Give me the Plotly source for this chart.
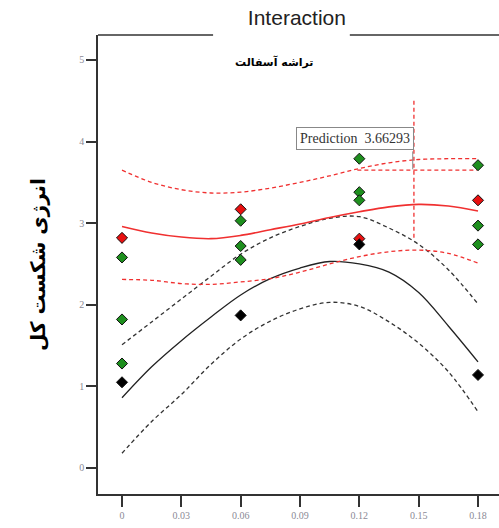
import plotly.graph_objects as go

# ---- data ----
green_x = [0, 0, 0, 0.06, 0.06, 0.06, 0.12, 0.12, 0.12, 0.18, 0.18, 0.18]
green_y = [2.58, 1.82, 1.28, 3.03, 2.72, 2.55, 3.79, 3.38, 3.28, 3.71, 2.97, 2.74]
red_x = [0, 0.06, 0.12, 0.18]
red_y = [2.82, 3.17, 2.81, 3.28]
black_x = [0, 0.06, 0.12, 0.18]
black_y = [1.05, 1.87, 2.74, 1.14]

curve_x = [0, 0.015, 0.03, 0.045, 0.06, 0.075, 0.09, 0.105, 0.12, 0.135, 0.15, 0.165, 0.18]
red_fit = [2.96, 2.88, 2.83, 2.81, 2.85, 2.92, 2.99, 3.07, 3.14, 3.20, 3.23, 3.21, 3.15]
red_upper = [3.65, 3.50, 3.41, 3.37, 3.38, 3.43, 3.50, 3.58, 3.67, 3.74, 3.78, 3.79, 3.79]
red_lower = [2.31, 2.30, 2.26, 2.25, 2.28, 2.32, 2.40, 2.50, 2.59, 2.65, 2.67, 2.63, 2.51]
black_fit = [0.86, 1.24, 1.56, 1.85, 2.12, 2.32, 2.45, 2.53, 2.50, 2.40, 2.15, 1.74, 1.30]
black_upper = [1.51, 1.79, 2.07, 2.35, 2.62, 2.82, 2.96, 3.06, 3.08, 2.94, 2.74, 2.43, 2.01]
black_lower = [0.18, 0.57, 0.90, 1.27, 1.58, 1.80, 1.95, 2.03, 1.98, 1.79, 1.53, 1.18, 0.69]

cross_x = 0.1476
cross_y = [2.82, 4.51]
hline_x = [0.119, 0.1795]
hline_y = 3.65
prediction_text = "Prediction  3.66293"

x_ticks = [0, 0.03, 0.06, 0.09, 0.12, 0.15, 0.18]
x_ticklabels = ["0", "0.03", "0.06", "0.09", "0.12", "0.15", "0.18"]
y_ticks = [0, 1, 2, 3, 4, 5]

title_text = "Interaction"
subtitle_text = "تراشه آسفالت"
ytitle_text = "انرژی شکست کل"

fig = go.Figure()

def add_line(y, color, dash, width=1.3):
    fig.add_trace(go.Scatter(x=curve_x, y=y, mode="lines", line_shape="spline",
                             line=dict(color=color, width=width, dash=dash),
                             hoverinfo="skip", showlegend=False))

add_line(black_upper, "#333333", "4px,3px")
add_line(black_lower, "#333333", "4px,3px")
add_line(black_fit, "#222222", "solid")
add_line(red_upper, "#f03030", "4px,3px")
add_line(red_lower, "#f03030", "4px,3px")
add_line(red_fit, "#f03030", "solid", 1.6)

# crosshair
fig.add_trace(go.Scatter(x=[cross_x, cross_x], y=cross_y, mode="lines",
                         line=dict(color="#f03030", width=1.3, dash="4px,3px"),
                         showlegend=False, hoverinfo="skip"))
fig.add_trace(go.Scatter(x=hline_x, y=[hline_y, hline_y], mode="lines",
                         line=dict(color="#f03030", width=1.3, dash="4px,3px"),
                         showlegend=False, hoverinfo="skip"))

def add_markers(x, y, color):
    fig.add_trace(go.Scatter(x=x, y=y, mode="markers",
                             marker=dict(symbol="diamond", size=8.5, color=color,
                                         line=dict(color="#111111", width=1)),
                             showlegend=False))

add_markers(green_x, green_y, "#1e8f1e")
add_markers(red_x, red_y, "#e81010")
add_markers(black_x, black_y, "#000000")

# top frame line with gap for title
fig.add_shape(type="line", xref="paper", yref="paper", x0=0, x1=0.287, y0=1, y1=1,
              line=dict(color="#333333", width=1.5))
fig.add_shape(type="line", xref="paper", yref="paper", x0=0.628, x1=1.0, y0=1, y1=1,
              line=dict(color="#333333", width=1.5))

# prediction box leader line
fig.add_shape(type="line", xref="x", yref="y", x0=cross_x - 0.0006, x1=cross_x - 0.0006,
              y0=3.88, y1=3.66, line=dict(color="#888888", width=1))

fig.add_annotation(x=cross_x, y=4.04, xref="x", yref="y", xanchor="right", yanchor="middle",
                   text=prediction_text, showarrow=False,
                   font=dict(family="Liberation Serif", size=14, color="#333333"),
                   bgcolor="white", bordercolor="#888888", borderwidth=1, borderpad=3)

fig.add_annotation(x=0.44, y=4.98, xref="paper", yref="y", text="<b>" + subtitle_text + "</b>",
                   showarrow=False, font=dict(family="DejaVu Sans", size=11, color="#000000"))

fig.update_layout(
    width=499, height=528,
    margin=dict(l=98, r=0, t=35, b=34),
    paper_bgcolor="white", plot_bgcolor="white",
    title=dict(text=title_text, x=0.496, xref="paper", xanchor="center",
               y=1 - 18 / 528, yanchor="middle", automargin=False,
               font=dict(family="Liberation Sans", size=21, color="#222222")),
    xaxis=dict(range=[-0.01214, 0.19062], tickvals=x_ticks, ticktext=x_ticklabels,
               automargin=False,
               showgrid=False, zeroline=False, showline=True, linecolor="#333333", linewidth=1.5,
               ticks="outside", ticklen=11, tickcolor="#333333", tickwidth=1.5,
               tickfont=dict(family="Liberation Serif", size=10, color="#8a8a95")),
    yaxis=dict(range=[-0.319, 5.306], tickvals=y_ticks, automargin=False,
               showgrid=False, zeroline=False, showline=True, linecolor="#333333", linewidth=1.5,
               ticks="outside", ticklen=10, tickcolor="#333333", tickwidth=1.5,
               tickfont=dict(family="Liberation Serif", size=10, color="#8a8a95"),
               title=dict(text="<b>" + ytitle_text + "</b>", standoff=28,
                          font=dict(family="DejaVu Sans", size=20, color="#000000"))),
)

fig.write_html("out.html", config={"displayModeBar": False},
               post_script="document.body.style.margin='0';document.body.style.overflow='hidden';")
